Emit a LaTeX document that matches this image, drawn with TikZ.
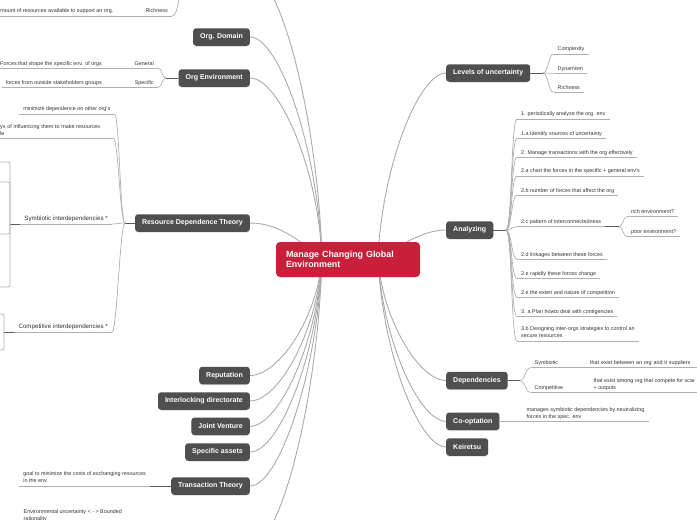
\documentclass[tikz,border=0pt]{standalone}
\usepackage{fontspec}
\setmainfont{Liberation Sans}
\usetikzlibrary{backgrounds,shadows}

\definecolor{rootred}{HTML}{C8203A}
\definecolor{topicgray}{HTML}{4F4F4F}
\definecolor{linegray}{HTML}{ABABAB}
\definecolor{leafgray}{HTML}{B0B0B0}
\definecolor{stemgray}{HTML}{5A5A5A}
\definecolor{leaftext}{HTML}{333333}

\newcommand{\leafsize}{\fontsize{5.4}{7}\selectfont}

\tikzset{
  root/.style={fill=rootred, text=white, rounded corners=4pt,
    font=\fontsize{8.9}{10}\selectfont\bfseries, align=left,
    text width=124pt, inner xsep=10pt, minimum height=35pt},
  topic/.style={fill=topicgray, text=white, rounded corners=3pt,
    font=\fontsize{7}{8}\selectfont\bfseries, inner xsep=7pt, inner ysep=0pt,
    minimum height=17.5pt,
    drop shadow={opacity=0.3, shadow xshift=0pt, shadow yshift=-0.8pt}},
  leaf/.style={text=leaftext, font=\leafsize, align=left, inner xsep=4pt,
    inner ysep=0.9pt, execute at begin node=\strut, execute at end node=\strut,
    append after command={(\tikzlastnode.south west) edge[twig] (\tikzlastnode.south east)}},
  branch/.style={draw=linegray, line width=0.9pt},
  twig/.style={draw=leafgray, line width=0.7pt},
  stem/.style={draw=stemgray, line width=0.8pt},
}

\begin{document}
\begin{tikzpicture}[x=1pt, y=-1pt]
  \useasboundingbox (0,0) rectangle (697,520);
  \clip (0,0) rectangle (697,520);

  \node[root] (root) at (348,259.5) {Manage Changing Global\\Environment};

  \foreach \name/\y/\txt in {domain/37/Org. Domain, orgenv/78/Org Environment,
      rdt/223/Resource Dependence Theory, reput/375.5/Reputation,
      interl/401/Interlocking directorate, joint/426.3/Joint Venture,
      assets/452/Specific assets, trans/486/Transaction Theory}
    \node[topic, anchor=east] (\name) at (250,\y) {\txt};
  \foreach \name/\y/\txt in {levels/73/Levels of uncertainty, analyz/230/Analyzing,
      depend/380.5/Dependencies, coopt/421.3/Co-optation, keir/447/Keiretsu}
    \node[topic, anchor=west] (\name) at (446,\y) {\txt};

  % left side
  \node[leaf, anchor=south east] (richL) at (172,16) {Richness};
  \node[leaf, anchor=south east] (amount) at (117.5,16) {mount of resources available to support an org.};
  \node[leaf, anchor=south east] (general) at (158,68.3) {General};
  \node[leaf, anchor=south east] (shape) at (106,68.3) {Forces that shape the specific env. of orgs};
  \node[leaf, anchor=south east] (specific) at (158,87.3) {Specific};
  \node[leaf, anchor=south east] (outside) at (106,87.3) {forces from outside stakeholders groups};
  \node[leaf, anchor=south east] (minimize) at (114.5,114) {minimize dependence on other org's};
  \node[leaf, anchor=south west, text width=109pt] (influence) at (-4,138.3) {ys of influencing them to make resources\\le};
  \node[leaf, anchor=south east, font=\fontsize{6.2}{8}\selectfont] (symbio) at (112,224) {Symbiotic interdependencies *};
  \node[leaf, anchor=south east, font=\fontsize{6.2}{8}\selectfont] (compet) at (112,332.3) {Competitive interdependencies *};
  \node[leaf, anchor=south east] (goal) at (150,486) {goal to minimize the costs of exchanging resources\\in the env.};
  \node[leaf, anchor=south west] (envunc) at (19.5,524) {Environmental uncertainty < - > Bounded\\rationality};

  % right side
  \foreach \name/\y/\txt in {complexity/54/Complexity, dynamism/73.3/Dynamism, richR/92.3/Richness}
    \node[leaf, anchor=south west] (\name) at (553.5,\y) {\txt};
  \foreach \name/\y/\txt in {a1/119/{1. periodically analyze the org. env},
      a1a/138.3/{1.a Identify sources of uncertainty},
      a2/157.3/{2. Manage transactions with the org effectively},
      a2a/176/{2.a chart the forces in the specific + general env's},
      a2b/195.3/{2.b number of forces that affect the org},
      a2c/226.7/{2.c pattern of interconnectedness},
      a2d/259.3/{2.d linkages between these forces},
      a2e/278.3/{2.e rapidly these forces change},
      a2f/297.3/{2.e the exten and nature of competition},
      a3a/316.7/{3. a Plan howto deal with contigencies},
      a3b/341/{3.b Designing inter-orgs strategies to control an\\secure resources}}
    \node[leaf, anchor=south west] (\name) at (517,\y) {\txt};
  \node[leaf, anchor=south west] (rich) at (627,216.7) {rich environment?};
  \node[leaf, anchor=south west] (poor) at (627,236.7) {poor environment?};
  \node[leaf, anchor=south west] (symb) at (530.5,367.7) {Symbiotic};
  \node[leaf, anchor=south west] (compt) at (530.5,392.7) {Competitive};
  \node[leaf, anchor=south west, text width=103pt] (supp) at (586,367.7) {that exist between an org and it suppliers};
  \node[leaf, anchor=south west] (scarce) at (589.5,392.7) {that exist among org that compete for scar\\+ outputs};
  \node[leaf, anchor=south west] (cochild) at (522.5,421.3) {manages symbiotic dependencies by neutralizing\\forces in the spec. env};

  \begin{pgfonlayer}{background}
    \fill[white] (0,0) rectangle (697,520);
    \coordinate (hubL) at (322,258);
    \coordinate (hubR) at (378,258);
    \coordinate (offtop) at (252,-25);
    \coordinate (offbot) at (252,545);

    \foreach \name/\dy in {domain/-110, orgenv/-90, reput/59, interl/72, joint/84, assets/97, trans/114}
      \draw[branch] (hubL) .. controls +(-4,\dy) and +(29,0) .. (\name.east);
    \draw[branch] (hubL) .. controls +(-4,-140) and +(28,0) .. (offtop);
    \draw[branch] (hubL) .. controls +(-4,143) and +(28,0) .. (offbot);
    \draw[branch] (hubL) .. controls +(-20,-15) and +(30,0) .. (rdt.east);
    \foreach \name/\dy in {levels/-92, depend/61, coopt/81, keir/94}
      \draw[branch] (hubR) .. controls +(4,\dy) and +(-27,0) .. (\name.west);
    \draw[branch] (hubR) .. controls +(20,-10) and +(-25,0) .. (analyz.west);

    % left branches
    \coordinate (richJ) at (180,-15);
    \draw[twig] (richL.south east) .. controls +(6,0) and +(0,8) .. (richJ);
    \draw[twig] (richL.south west) -- (amount.south east);
    \coordinate (oeJ) at (166,78);
    \draw[stem] (orgenv.west) -- (oeJ);
    \foreach \name in {general, specific}
      \draw[twig] (oeJ) to[out=180, in=0, distance=5pt] (\name.south east);
    \draw[twig] (general.south west) -- (shape.south east);
    \draw[twig] (specific.south west) -- (outside.south east);
    \coordinate (rdtJ) at (125,223);
    \draw[stem] (rdt.west) -- (rdtJ);
    \foreach \name in {minimize, influence, symbio, compet}
      \draw[twig] (rdtJ) to[out=180, in=0, distance=5pt] (\name.south east);
    \coordinate (symJ) at (10,224);
    \draw[stem] (symbio.south west) -- (symJ);
    \foreach \y in {162, 182, 234, 287}
      \draw[twig, rounded corners=2pt] (symJ) |- (-6,\y);
    \coordinate (compJ) at (4,332.3);
    \draw[stem] (compet.south west) -- (compJ);
    \foreach \y in {314, 350}
      \draw[twig, rounded corners=2pt] (compJ) |- (-6,\y);
    \draw[stem] (trans.west) -- (goal.south east);

    % right branches
    \coordinate (lvJ) at (543,73);
    \draw[stem] (levels.east) -- (lvJ);
    \foreach \name in {complexity, dynamism, richR}
      \draw[twig] (lvJ) to[out=0, in=180, distance=5pt] (\name.south west);
    \coordinate (anJ) at (506,230);
    \draw[stem] (analyz.east) -- (anJ);
    \foreach \name in {a1, a1a, a2, a2a, a2b, a2c, a2d, a2e, a2f, a3a, a3b}
      \draw[twig] (anJ) to[out=0, in=180, distance=6pt] (\name.south west);
    \coordinate (pcJ) at (619,226.7);
    \draw[stem] (a2c.south east) -- (pcJ);
    \foreach \name in {rich, poor}
      \draw[twig] (pcJ) to[out=0, in=180, distance=4pt] (\name.south west);
    \coordinate (dpJ) at (520,380.5);
    \draw[stem] (depend.east) -- (dpJ);
    \foreach \name in {symb, compt}
      \draw[twig] (dpJ) to[out=0, in=180, distance=5pt] (\name.south west);
    \draw[twig] (symb.south east) -- (supp.south west);
    \draw[twig] (compt.south east) -- (scarce.south west);
    \draw[twig] (coopt.east) -- (cochild.south west);
  \end{pgfonlayer}
\end{tikzpicture}
\end{document}
